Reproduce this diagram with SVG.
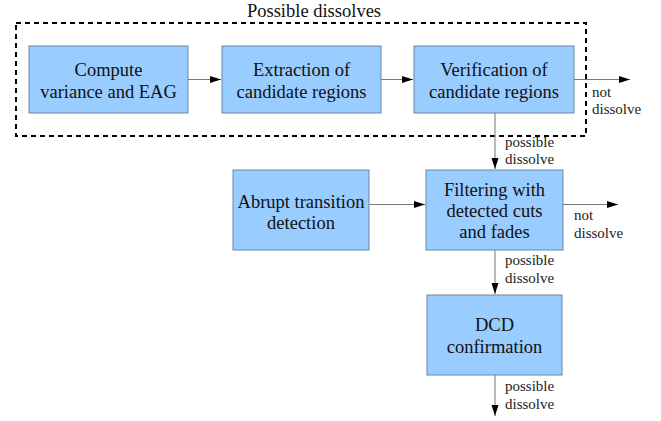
<svg xmlns="http://www.w3.org/2000/svg" width="661" height="421" viewBox="0 0 661 421">
<style>
.box{fill:#99ccff;stroke:#6a85a6;stroke-width:1}
text{font-family:'Liberation Serif','Times New Roman','DejaVu Serif',serif}
.t{font-size:18.5px;fill:#111;text-anchor:middle}
.s{font-size:15px;fill:#222}
.c{stroke:#777;stroke-width:1;fill:none;marker-end:url(#ah)}
</style>
<defs>
<marker id="ah" markerWidth="12" markerHeight="8" refX="11" refY="4" orient="auto" markerUnits="userSpaceOnUse">
<path d="M0,0.5 L11,4 L0,7.5 z" fill="#000"/>
</marker>
</defs>
<rect x="0" y="0" width="661" height="421" fill="#fff"/>
<g id="group-dissolves">
<rect x="16" y="23" width="570" height="113" fill="none" stroke="#000" stroke-width="2" stroke-dasharray="5,4"/>
<text class="t" x="314" y="17">Possible dissolves</text>
</g>
<g id="connectors">
<line class="c" x1="188" y1="79.5" x2="221" y2="79.5"/>
<line class="c" x1="381" y1="79.5" x2="413" y2="79.5"/>
<line class="c" x1="574" y1="79.5" x2="630" y2="79.5"/>
<line class="c" x1="495" y1="113" x2="495" y2="169"/>
<line class="c" x1="369" y1="204.5" x2="425" y2="204.5"/>
<line class="c" x1="563" y1="204.5" x2="618" y2="204.5"/>
<line class="c" x1="495" y1="250" x2="495" y2="294"/>
<line class="c" x1="495" y1="375" x2="495" y2="416"/>
<text class="s" x="592" y="97">not</text>
<text class="s" x="592" y="114">dissolve</text>
<text class="s" x="505" y="147">possible</text>
<text class="s" x="505" y="164">dissolve</text>
<text class="s" x="574" y="220">not</text>
<text class="s" x="574" y="238">dissolve</text>
<text class="s" x="505" y="265">possible</text>
<text class="s" x="505" y="283">dissolve</text>
<text class="s" x="505" y="391">possible</text>
<text class="s" x="505" y="409">dissolve</text>
</g>
<g id="compute">
<rect class="box" x="29" y="46" width="159" height="67"/>
<text class="t" x="108.5" y="76">Compute</text>
<text class="t" x="108.5" y="98">variance and EAG</text>
</g>
<g id="extraction">
<rect class="box" x="222" y="46" width="159" height="67"/>
<text class="t" x="301.5" y="76">Extraction of</text>
<text class="t" x="301.5" y="98">candidate regions</text>
</g>
<g id="verification">
<rect class="box" x="414" y="46" width="160" height="67"/>
<text class="t" x="494" y="76">Verification of</text>
<text class="t" x="494" y="98">candidate regions</text>
</g>
<g id="abrupt">
<rect class="box" x="233" y="170" width="136" height="80"/>
<text class="t" x="301" y="208">Abrupt transition</text>
<text class="t" x="301" y="229">detection</text>
</g>
<g id="filtering">
<rect class="box" x="426" y="170" width="137" height="80"/>
<text class="t" x="494.5" y="196">Filtering with</text>
<text class="t" x="494.5" y="217">detected cuts</text>
<text class="t" x="494.5" y="238">and fades</text>
</g>
<g id="dcd">
<rect class="box" x="427" y="295" width="135" height="80"/>
<text class="t" x="494.5" y="331">DCD</text>
<text class="t" x="494.5" y="353">confirmation</text>
</g>
</svg>
